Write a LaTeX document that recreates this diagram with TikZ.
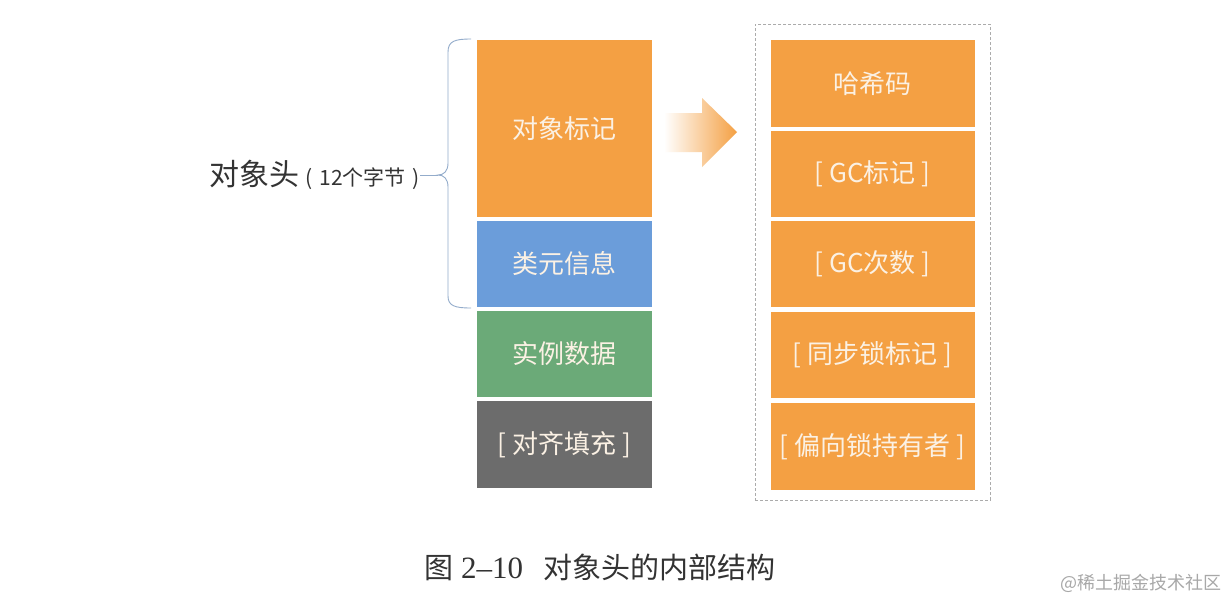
\documentclass[tikz,border=0pt]{standalone}
\usepackage{fontspec}
\setmainfont{Noto Sans CJK SC}
\newfontfamily\cjk{Noto Sans CJK SC}
\newfontfamily\serifnum{Liberation Serif}
\usetikzlibrary{positioning}
\definecolor{orng}{HTML}{F4A043}
\definecolor{blu}{HTML}{6B9DDA}
\definecolor{grn}{HTML}{6BAA78}
\definecolor{gry}{HTML}{6C6C6C}
\definecolor{txtw}{HTML}{FBF1E4}
\definecolor{brc}{HTML}{93ACCB}
\definecolor{dsh}{HTML}{ABABAB}
\definecolor{dark}{HTML}{333333}
\definecolor{wmark}{HTML}{A8A8A8}
\tikzset{
  cell/.style={fill=#1, draw=none, inner sep=0pt, text=txtw,
    font=\cjk\fontsize{26}{30}\selectfont},
  lbl/.style={inner sep=0pt, text=dark}
}
\begin{document}
\begin{tikzpicture}[x=1pt,y=-1pt]
\useasboundingbox (0,0) rectangle (1226,598);
\fill[white] (0,0) rectangle (1226,598);
% left column
\node[cell=orng, minimum width=175, minimum height=177] (mark) at (564.5,128.5) {对象标记};
\node[cell=blu, minimum width=175, minimum height=86] (klass) at (564.5,264) {类元信息};
\node[cell=grn, minimum width=175, minimum height=86] (inst) at (564.5,354) {实例数据};
\node[cell=gry, minimum width=175, minimum height=87] (pad) at (564.5,444.5) {[ 对齐填充 ]};
% right column frame
\node[draw=dsh, densely dashed, line width=1pt, minimum width=235, minimum height=476, inner sep=0pt] (frame) at (872.5,262) {};
\node[cell=orng, minimum width=204, minimum height=87] (hash) at (872.5,83.5) {哈希码};
\node[cell=orng, minimum width=204, minimum height=86] (gcm) at (872.5,174) {[ GC标记 ]};
\node[cell=orng, minimum width=204, minimum height=86] (gcn) at (872.5,264) {[ GC次数 ]};
\node[cell=orng, minimum width=204, minimum height=86] (lock) at (872.5,355) {[ 同步锁标记 ]};
\node[cell=orng, minimum width=204, minimum height=87] (bias) at (872.5,446.5) {[ 偏向锁持有者 ]};
% arrow
\shade[left color=white, right color=orng, shading angle=90]
  (664,113) -- (702,113) -- (702,98) -- (737,132) -- (702,167) -- (702,152) -- (664,152) -- cycle;
% header label and brace
\node[lbl, anchor=east] (hdr) at (420,175) {\fontsize{30}{34}\selectfont 对象头\hspace{6pt}{\fontsize{21}{25}\selectfont (\hspace{7pt}12个字节\hspace{7pt})}};
\coordinate (tip) at (438,175);
\draw[brc, line width=0.9pt] (hdr.east) -- (tip);
\draw[brc, line width=0.9pt] (471,39) .. controls (455,39) and (448,41) .. (448,52)
  -- (448,163) .. controls (448,171) and (444,175) .. (tip)
  .. controls (444,175) and (448,179) .. (448,187)
  -- (448,296) .. controls (448,306) and (455,308) .. (471,308);
% caption
\node[lbl, anchor=west] (cap) at (424,567) {\fontsize{29}{34}\selectfont 图\hspace{8pt}{\serifnum\fontsize{31}{34}\selectfont 2–10}\hspace{20pt}对象头的内部结构};
\node[lbl, anchor=east, text=wmark] (wm) at (1222,583) {\fontsize{18}{22}\selectfont @稀土掘金技术社区};
\end{tikzpicture}
\end{document}
